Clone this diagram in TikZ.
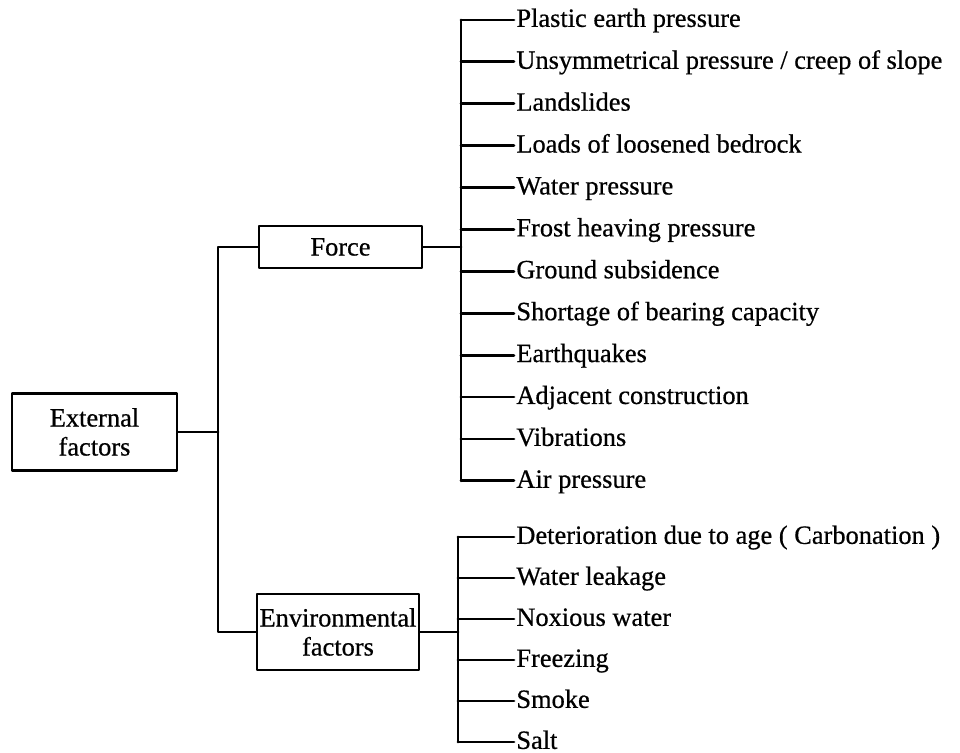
\documentclass[tikz,border=0pt]{standalone}
\usepackage{fontspec}
\setmainfont{Liberation Serif}[FakeBold=0.6]
\begin{document}
\begin{tikzpicture}[x=0.5pt,y=-0.5pt,line join=round,line cap=round,font=\fontsize{13.2}{14.5}\selectfont,
  box/.style={draw,line width=1.3pt,align=center,inner sep=0pt},
  item/.style={anchor=west,inner sep=1pt,text height=1.7ex,text depth=0.2ex},
  branch/.style={line width=1.4pt}]
\useasboundingbox (0,0) rectangle (960,753);
% boxes
\node[box,minimum width=82.5pt,minimum height=38.5pt] (ext) at (94.5,432) {External\\factors};
\node[box,minimum width=81.5pt,minimum height=21pt] (force) at (340.5,247) {Force};
\node[box,minimum width=81pt,minimum height=38pt] (env) at (338,632) {Environmental\\factors};
\coordinate (lv) at (218,0);
\coordinate (fv) at (461,0);
\coordinate (ev) at (458,0);
% items
\foreach \t [count=\i] in {Plastic earth pressure,{Unsymmetrical pressure / creep of slope},Landslides,
    Loads of loosened bedrock,Water pressure,Frost heaving pressure,Ground subsidence,
    Shortage of bearing capacity,Earthquakes,Adjacent construction,Vibrations,Air pressure}
  \node[item] (f\i) at (514,{20+41.9*(\i-1)}) {\t};
\foreach \t [count=\i] in {{Deterioration due to age ( Carbonation )},Water leakage,Noxious water,
    Freezing,Smoke,Salt}
  \node[item] (e\i) at (514,{537+41*(\i-1)}) {\t};
% connectors
\draw[branch] (ext.east) -- (ext.east -| lv);
\draw[branch] (force.west) -- (force.west -| lv) -- (env.west -| lv) -- (env.west);
\draw[branch] (force.east) -- (force.east -| fv);
\draw[branch] (env.east) -- (env.east -| ev);
\draw[branch] (f1.west -| fv) -- (f12.west -| fv);
\draw[branch] (e1.west -| ev) -- (e6.west -| ev);
\foreach \i in {1,...,12} \draw[branch] (f\i.west -| fv) -- (f\i.west);
\foreach \i in {1,...,6} \draw[branch] (e\i.west -| ev) -- (e\i.west);
\end{tikzpicture}
\end{document}
